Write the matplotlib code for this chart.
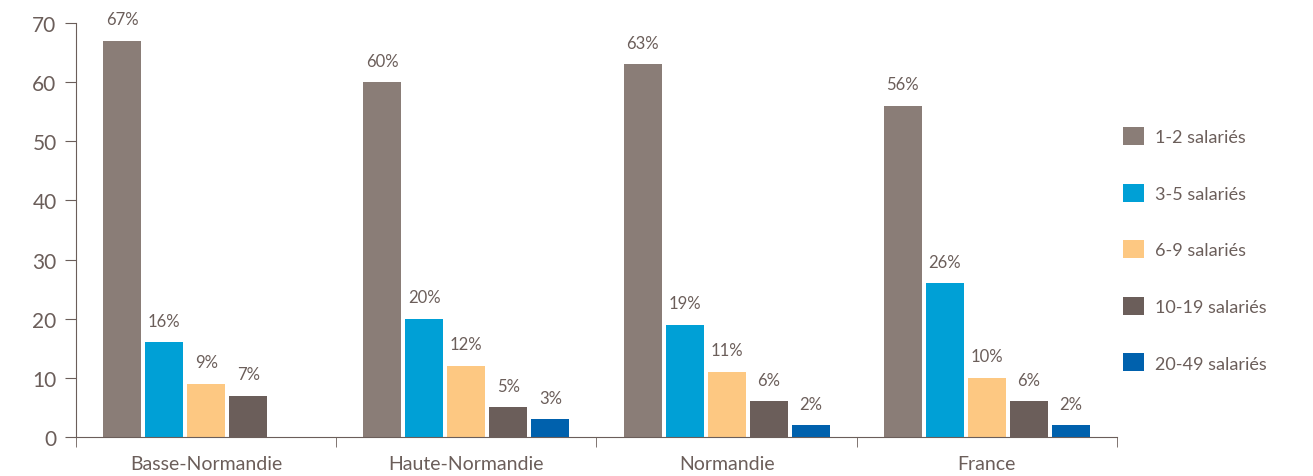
import numpy as np
import matplotlib
matplotlib.use("Agg")
import matplotlib.pyplot as plt

regions = ["Basse-Normandie", "Haute-Normandie", "Normandie", "France"]
series = ["1-2 salariés", "3-5 salariés", "6-9 salariés", "10-19 salariés", "20-49 salariés"]
values = [
    [67, 60, 63, 56],
    [16, 20, 19, 26],
    [9, 12, 11, 10],
    [7, 5, 6, 6],
    [0, 3, 2, 2],
]
colors = ["#8a7d77", "#00a0d6", "#fdc882", "#6b5e5a", "#0061ad"]
text_color = "#6b5e5a"

plt.rcParams["font.family"] = ["Lato", "DejaVu Sans"]

fig = plt.figure(figsize=(13.13, 4.77), dpi=100)
ax = fig.add_axes([0.0579, 0.0818, 0.7928, 0.8679])

x = np.arange(len(regions))
step = 0.1615
width = 0.146
for i, (name, vals) in enumerate(zip(series, values)):
    pos = x + (i - 2) * step
    ax.bar(pos, vals, width=width, color=colors[i], label=name)
    for p, v in zip(pos, vals):
        if v > 0:
            ax.text(p, v + 2.3, f"{v}%", ha="center", va="bottom",
                    fontsize=12, color=text_color)

ax.set_xlim(-0.5, 3.5)
ax.set_ylim(0, 70)
ax.set_yticks(range(0, 71, 10))
ax.set_xticks(x)
ax.set_xticklabels(regions, fontsize=14, color=text_color)
ax.set_xticks(np.arange(-0.5, 3.6, 1), minor=True)
ax.tick_params(axis="x", which="major", length=0, pad=13)
ax.tick_params(axis="x", which="minor", length=7, color=text_color)
ax.tick_params(axis="y", length=8, color=text_color, labelsize=15,
               labelcolor=text_color, pad=6)
for s in ["top", "right"]:
    ax.spines[s].set_visible(False)
for s in ["left", "bottom"]:
    ax.spines[s].set_color(text_color)

leg = fig.legend(loc="upper left", bbox_to_anchor=(0.843, 0.765), frameon=False,
                 fontsize=13, labelspacing=2.13, handlelength=1.15,
                 handleheight=1.15, handletextpad=0.6)
for t in leg.get_texts():
    t.set_color(text_color)

fig.savefig("out.png", dpi=100)
